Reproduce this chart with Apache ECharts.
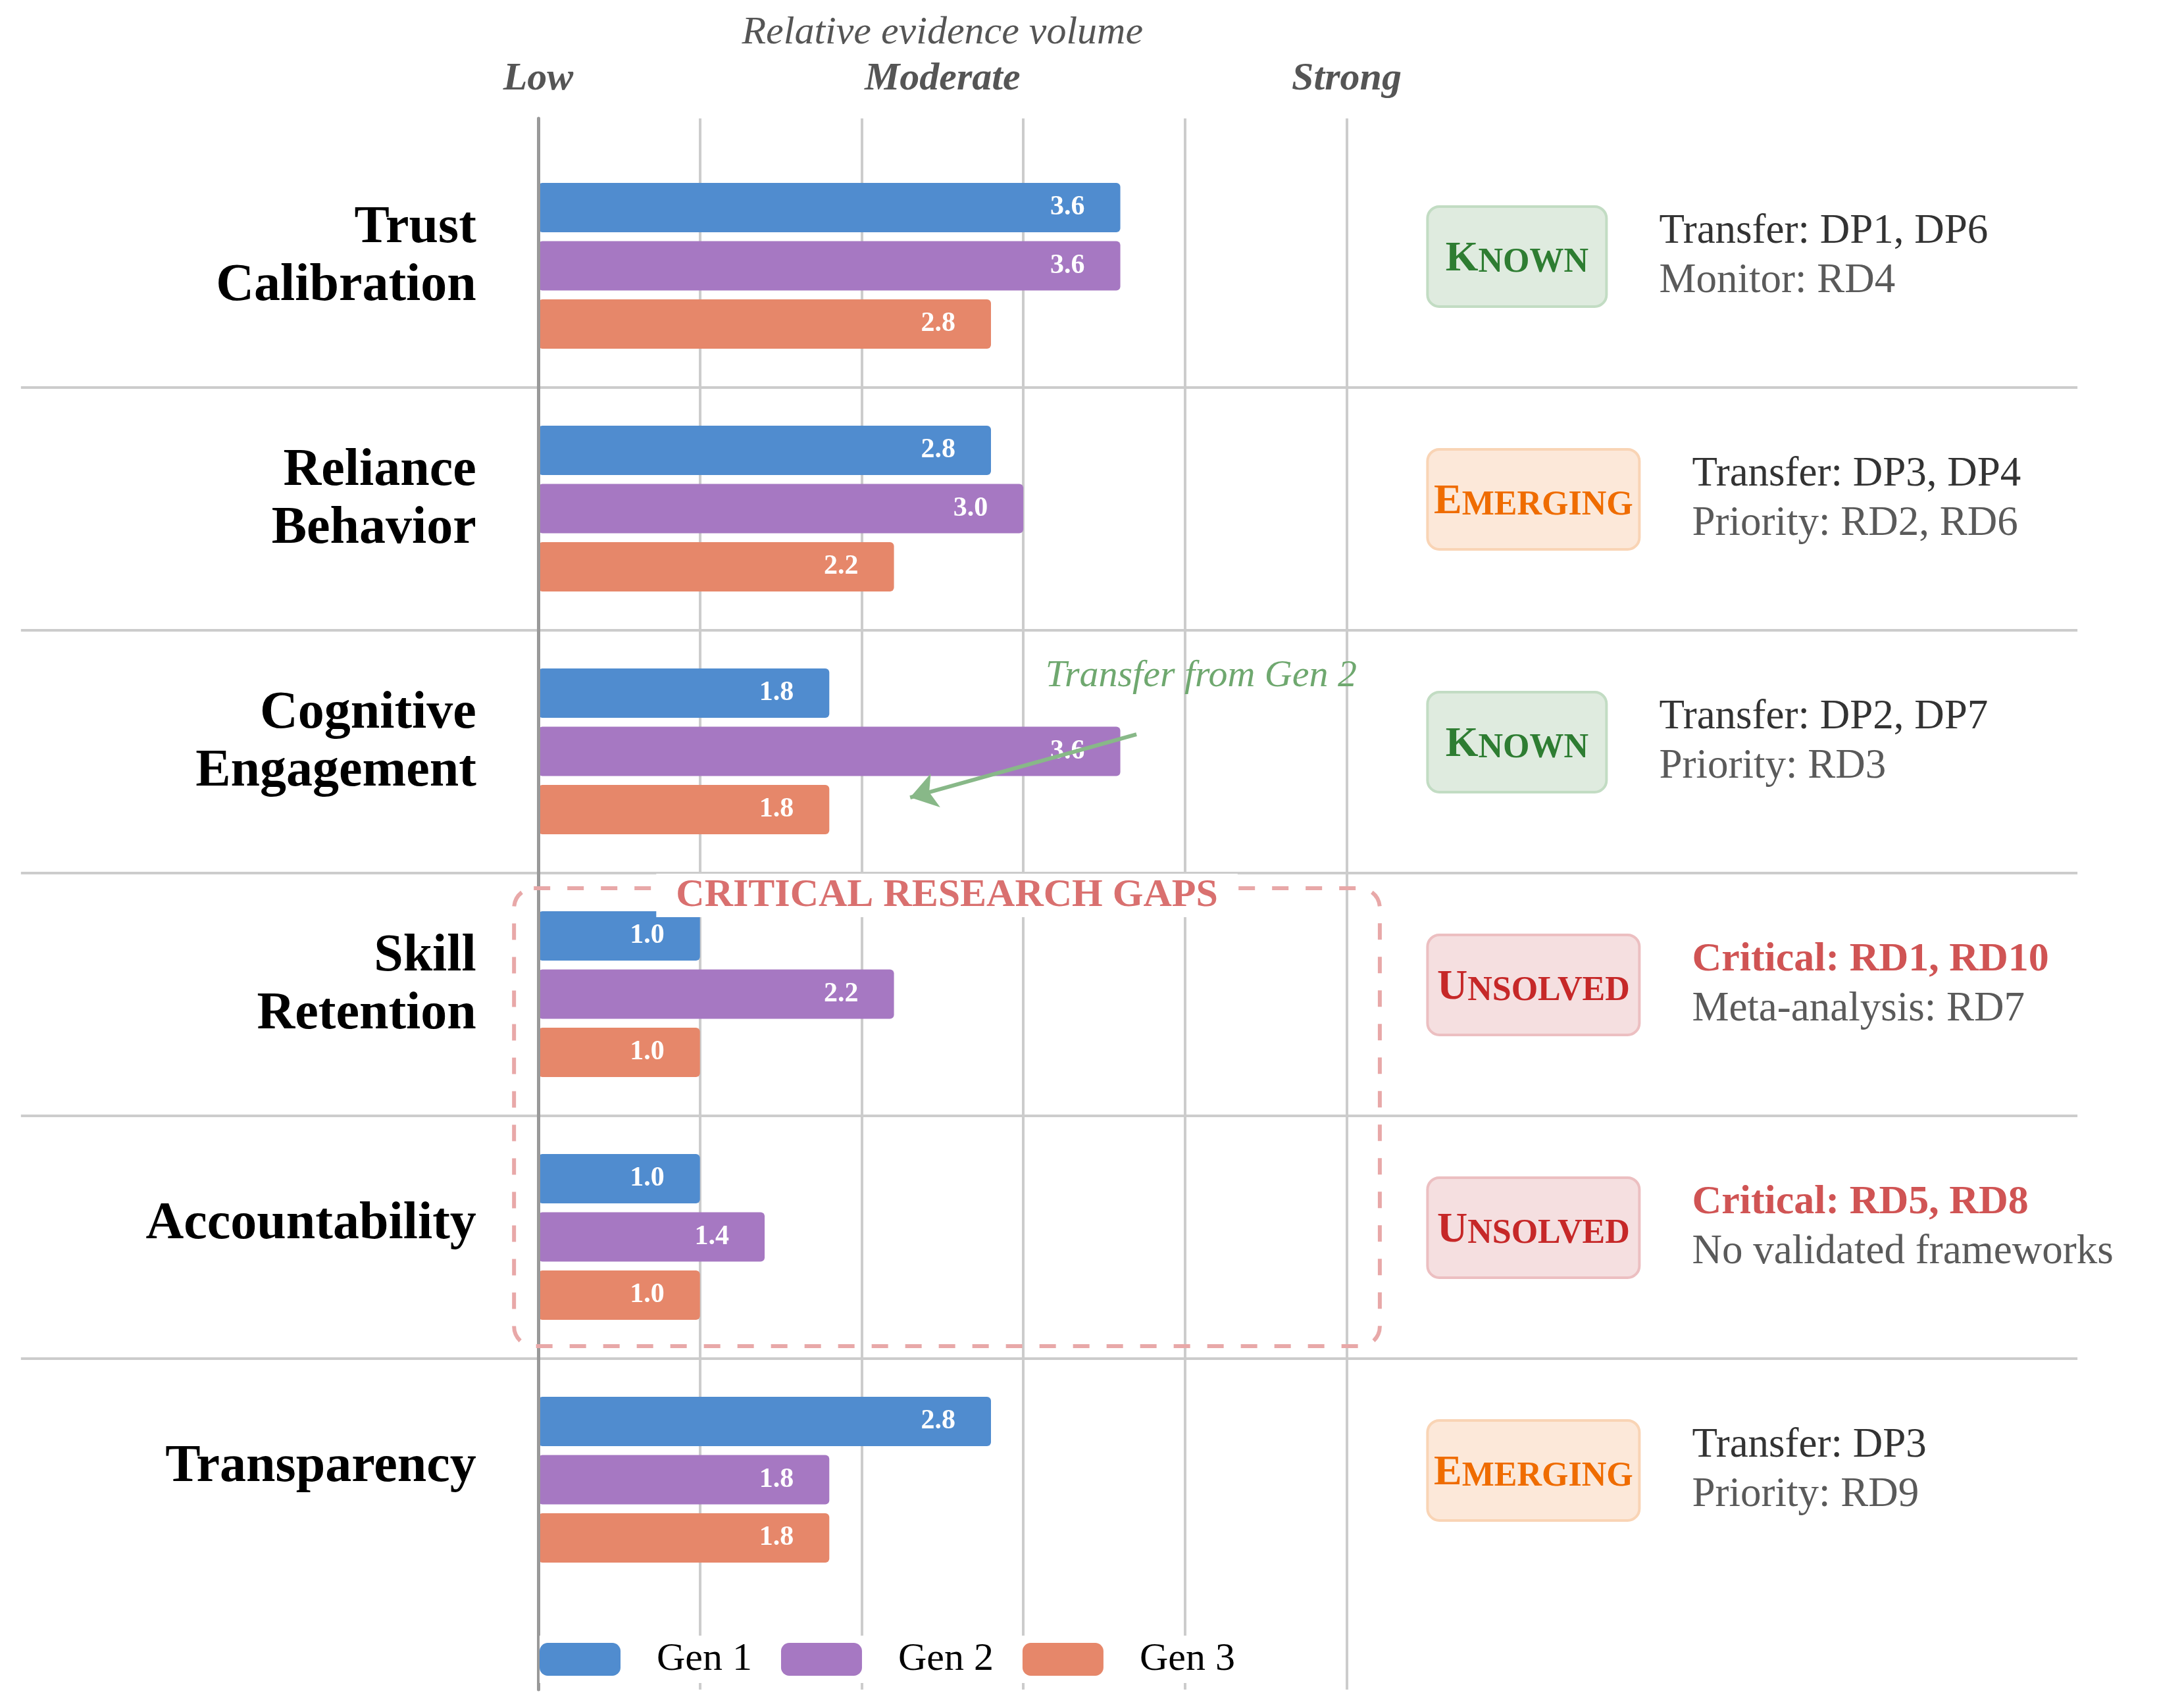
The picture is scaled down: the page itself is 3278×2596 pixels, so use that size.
<!DOCTYPE html>
<html><head><meta charset="utf-8">
<script src="https://cdn.jsdelivr.net/npm/echarts@6/dist/echarts.min.js"></script>
<style>html,body{margin:0;padding:0;background:#fff}#c{width:3278px;height:2596px}</style>
</head><body><div id="c"></div>
<script>
// ---------- data ----------
const categories = ['Trust\nCalibration', 'Reliance\nBehavior', 'Cognitive\nEngagement', 'Skill\nRetention', 'Accountability', 'Transparency'];
const seriesNames = ['Gen 1', 'Gen 2', 'Gen 3'];
const gen1 = [3.6, 2.8, 1.8, 1.0, 1.0, 2.8];
const gen2 = [3.6, 3.0, 3.6, 2.2, 1.4, 1.8];
const gen3 = [2.8, 2.2, 1.8, 1.0, 1.0, 1.8];
const scaleTickValues = [0, 2.5, 5];
const scaleTickLabels = ['Low', 'Moderate', 'Strong'];
const statuses = ['Known', 'Emerging', 'Known', 'Unsolved', 'Unsolved', 'Emerging'];
const noteLine1 = ['Transfer: DP1, DP6', 'Transfer: DP3, DP4', 'Transfer: DP2, DP7', 'Critical: RD1, RD10', 'Critical: RD5, RD8', 'Transfer: DP3'];
const noteLine2 = ['Monitor: RD4', 'Priority: RD2, RD6', 'Priority: RD3', 'Meta-analysis: RD7', 'No validated frameworks', 'Priority: RD9'];
const arrowFrom = [3.7, 1.93];
const arrowTo = [2.3, 2.19];
const arrowText = 'Transfer from Gen 2';
const gapTitle = 'CRITICAL RESEARCH GAPS';
const gapBox = [-0.15, 2.564, 5.205, 4.45]; // x0, y0, x1, y1 in data units

// ---------- style ----------
const SERIF = '"Liberation Serif","DejaVu Serif",serif';
const colors = ['#508ccf', '#a678c2', '#e6876a'];
const statusStyle = {
  Known: {fill: '#dfebdf', stroke: '#c2dcc3', text: '#2e7d32', w: 272},
  Emerging: {fill: '#fce8d9', stroke: '#f9d4b5', text: '#ef6c00', w: 322},
  Unsolved: {fill: '#f5dfe0', stroke: '#ecbfc1', text: '#c62828', w: 322}
};

const chart = echarts.init(document.getElementById('c'), null, {renderer: 'canvas'});
const barData = [gen1, gen2, gen3];

const option = {
  animation: false,
  backgroundColor: '#fff',
  grid: [
    {left: 31.8, width: 3125.3, top: 219.5, height: 2214, outerBoundsMode: 'none', containLabel: false},
    {left: 818, width: 1228.5, top: 180, height: 2388, outerBoundsMode: 'none', containLabel: false}
  ],
  xAxis: [
    {gridIndex: 0, type: 'value', min: -3.2, max: 9.52, show: false},
    {gridIndex: 1, type: 'value', min: 0, max: 5, interval: 1, position: 'bottom',
      axisLine: {show: false}, axisTick: {show: false}, axisLabel: {show: false},
      splitLine: {show: true, lineStyle: {color: '#cccccc', width: 4}}},
    {gridIndex: 1, type: 'value', min: 0, max: 5, interval: 2.5, position: 'top',
      axisLine: {show: false}, axisTick: {show: false}, splitLine: {show: false},
      axisLabel: {show: true, margin: 30, fontFamily: SERIF, fontStyle: 'italic', fontWeight: 'bold', fontSize: 60, color: '#555',
        formatter: v => { const k = scaleTickValues.indexOf(v); return k >= 0 ? scaleTickLabels[k] : ''; }},
      name: 'Relative evidence volume', nameLocation: 'middle', nameGap: 100,
      nameTextStyle: {fontFamily: SERIF, fontStyle: 'italic', fontSize: 60, color: '#555'}}
  ],
  yAxis: [
    {gridIndex: 0, type: 'category', data: categories, inverse: true,
      axisLine: {show: false}, axisTick: {show: false},
      splitLine: {show: true, showMinLine: false, showMaxLine: false, lineStyle: {color: '#cccccc', width: 4}},
      axisLabel: {interval: 0, margin: -692, align: 'right', color: '#000',
        formatter: v => {
          const parts = v.split('\n');
          return parts.map(s => '{t|' + s + '}').join('\n') + (parts.length > 1 ? '\n{q| }' : '\n{p| }');
        },
        rich: {
          t: {fontFamily: SERIF, fontWeight: 'bold', fontSize: 80, lineHeight: 88, color: '#000', align: 'right'},
          p: {fontSize: 4, lineHeight: 38},
          q: {fontSize: 4, lineHeight: 26}
        }}},
    {gridIndex: 0, type: 'value', min: -0.5, max: 5.5, inverse: true, show: false},
    {gridIndex: 1, type: 'value', min: 0, max: 1, z: 3,
      axisLine: {show: true, lineStyle: {color: '#999999', width: 5}},
      axisTick: {show: false}, axisLabel: {show: false}, splitLine: {show: false}}
  ],
  legend: {
    data: seriesNames, left: 820, top: 2486, orient: 'horizontal',
    icon: 'roundRect', itemWidth: 123, itemHeight: 50, itemGap: 44,
    backgroundColor: '#fff', padding: [6, 20, 6, 0],
    textStyle: {fontFamily: SERIF, fontSize: 60, color: '#000', padding: [0, 0, 0, 50]}
  },
  series: seriesNames.map((name, k) => ({
    name, type: 'bar', xAxisIndex: 0, yAxisIndex: 0,
    data: barData[k], barWidth: 75, barGap: '18%',
    itemStyle: {color: colors[k], borderRadius: 6},
    label: {show: true, position: 'insideRight', distance: 54, color: '#fff', fontFamily: SERIF, fontWeight: 'bold', fontSize: 42,
      formatter: p => Number(p.value).toFixed(1)}
  })).concat([{
    name: 'annot', type: 'scatter', xAxisIndex: 0, yAxisIndex: 1, data: [arrowTo], symbolSize: 0, silent: true,
    markLine: {silent: true, symbol: ['none', 'arrow'], symbolSize: 40,
      lineStyle: {color: '#88b888', width: 6, type: 'solid'}, label: {show: false},
      data: [[{coord: arrowFrom}, {coord: arrowTo}]]}
  }])
};
chart.setOption(option);

const xp = v => chart.convertToPixel({xAxisIndex: 0}, v);
const yp = v => chart.convertToPixel({yAxisIndex: 1}, v);

const els = [];
categories.forEach((c, i) => {
  const st = statusStyle[statuses[i]];
  const bx = xp(5.5);
  const bcy = yp(i - 0.038);
  els.push({type: 'rect', z: 10, shape: {x: bx, y: bcy - 76, width: st.w, height: 152, r: 18},
    style: {fill: st.fill, stroke: st.stroke, lineWidth: 4}});
  const s = statuses[i].toUpperCase();
  els.push({type: 'text', z: 11, x: bx + st.w / 2, y: bcy + 4,
    style: {text: '{b|' + s[0] + '}{s|' + s.slice(1) + '}', align: 'center', verticalAlign: 'middle',
      rich: {
        b: {fontFamily: SERIF, fontWeight: 'bold', fontSize: 64, lineHeight: 64, verticalAlign: 'bottom', fill: st.text},
        s: {fontFamily: SERIF, fontWeight: 'bold', fontSize: 52, lineHeight: 52, verticalAlign: 'bottom', fill: st.text}
      }}});
  const crit = noteLine1[i].startsWith('Critical');
  els.push({type: 'text', z: 11, x: bx + st.w + 80, y: yp(i - 0.038),
    style: {text: '{' + (crit ? 'c' : 'a') + '|' + noteLine1[i] + '}\n{b|' + noteLine2[i] + '}',
      align: 'left', verticalAlign: 'middle',
      rich: {
        a: {fontFamily: SERIF, fontSize: 63, lineHeight: 75, fill: '#333'},
        c: {fontFamily: SERIF, fontSize: 62, fontWeight: 'bold', lineHeight: 75, fill: '#d05454'},
        b: {fontFamily: SERIF, fontSize: 63, lineHeight: 75, fill: '#5a5a5a'}
      }}});
});
// dashed critical box
const bx0 = xp(gapBox[0]), bx1 = xp(gapBox[2]), by0 = yp(gapBox[1]), by1 = yp(gapBox[3]);
els.push({type: 'rect', z: 10, shape: {x: bx0, y: by0, width: bx1 - bx0, height: by1 - by0, r: 30},
  style: {fill: 'none', stroke: '#e8a8a8', lineWidth: 6, lineDash: [25, 26]}});
els.push({type: 'text', z: 12, x: (bx0 + bx1) / 2, y: by0 + 11,
  style: {text: gapTitle, fontFamily: SERIF, fontWeight: 'bold', fontSize: 60, lineHeight: 44, fill: '#d9706f',
    align: 'center', verticalAlign: 'middle', backgroundColor: '#fff', padding: [0, 30, 22, 30]}});
// arrow annotation text
els.push({type: 'text', z: 12, x: xp(4.1), y: yp(1.69),
  style: {text: arrowText, fontFamily: SERIF, fontStyle: 'italic', fontSize: 58, fill: '#6fa86f',
    align: 'center', verticalAlign: 'middle'}});

chart.setOption({graphic: {elements: els}});
</script>
</body></html>
